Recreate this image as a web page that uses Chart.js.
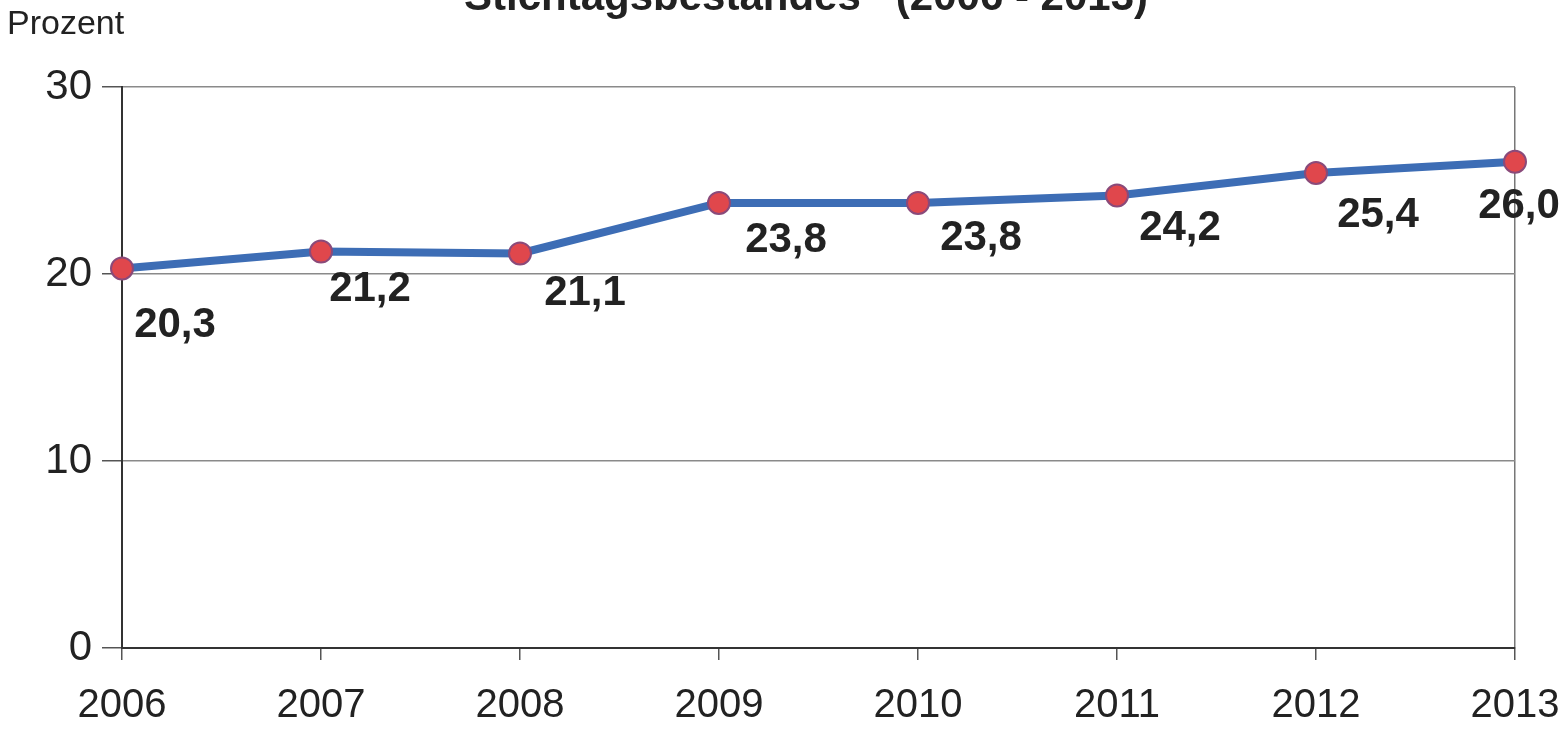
<!DOCTYPE html>
<html>
<head>
<meta charset="utf-8">
<script src="https://cdn.jsdelivr.net/npm/chart.js@4/dist/chart.umd.min.js"></script>
<style>
  html, body { margin: 0; padding: 0; background: #fff; }
  #wrap { position: relative; width: 1567px; height: 730px; }
  canvas { display: block; }
</style>
</head>
<body>
<div id="wrap"><canvas id="c" width="1567" height="730"></canvas></div>
<script>
// Jahre und Anteile (Prozent)
const years = ['2006', '2007', '2008', '2009', '2010', '2011', '2012', '2013'];
const shares = [20.3, 21.2, 21.1, 23.8, 23.8, 24.2, 25.4, 26.0];
const yTicks = [0, 10, 20, 30];

const titleText = 'Stichtagsbestandes   (2006 - 2013)';
const unitText = 'Prozent';

// Lage der Wertbeschriftungen relativ zum Punkt (dx, dy)
const labelShift = [[53, 57], [49, 38], [65, 40], [67, 37], [63, 35], [63, 33], [62, 42], [4, 45]];

const fmt = v => v.toFixed(1).replace('.', ',');

const annotate = {
  id: 'annotate',
  afterDatasetsDraw(chart) {
    const ctx = chart.ctx;
    const meta = chart.getDatasetMeta(0);
    ctx.save();
    ctx.fillStyle = '#222';
    ctx.font = 'bold 42px "Liberation Sans", Arial, sans-serif';
    ctx.textAlign = 'center';
    ctx.textBaseline = 'middle';
    meta.data.forEach((pt, i) => {
      const [dx, dy] = labelShift[i];
      ctx.fillText(fmt(shares[i]), pt.x + dx, pt.y + dy);
    });
    ctx.restore();
  },
  afterDraw(chart) {
    const ctx = chart.ctx;
    ctx.save();
    ctx.fillStyle = '#222';
    ctx.textBaseline = 'alphabetic';
    ctx.textAlign = 'left';
    ctx.font = '34px "Liberation Sans", Arial, sans-serif';
    ctx.fillText(unitText, 7, 34);
    ctx.font = 'bold 42px "Liberation Sans", Arial, sans-serif';
    ctx.textAlign = 'center';
    ctx.fillText(titleText, 806, 10);
    ctx.restore();
  }
};

new Chart(document.getElementById('c'), {
  type: 'line',
  data: {
    labels: years,
    datasets: [{
      data: shares,
      borderColor: '#3d6db5',
      borderWidth: 8,
      pointBackgroundColor: '#e0474c',
      pointBorderColor: '#8a4a7a',
      pointBorderWidth: 2,
      pointRadius: 11,
      tension: 0,
      clip: false
    }]
  },
  options: {
    responsive: false,
    animation: false,
    layout: { padding: { top: 87, right: 52, left: 0, bottom: 0 } },
    plugins: { legend: { display: false }, title: { display: false }, tooltip: { enabled: false } },
    scales: {
      x: {
        offset: false,
        grid: {
          drawOnChartArea: true,
          color: c => (c.index === years.length - 1 ? '#777' : 'transparent'),
          tickColor: '#555',
          tickLength: 12,
          lineWidth: 1.5
        },
        border: { color: '#333', width: 2 },
        ticks: {
          color: '#222',
          padding: 22,
          maxRotation: 0,
          autoSkip: false,
          font: { family: '"Liberation Sans", Arial, sans-serif', size: 40 }
        },
        afterFit: s => { s.height = 82; s.paddingLeft = 0; s.paddingRight = 0; }
      },
      y: {
        min: 0,
        max: 30,
        afterBuildTicks: s => { s.ticks = yTicks.map(v => ({ value: v })); },
        grid: { color: '#8a8a8a', lineWidth: 1.5, tickColor: '#555', tickLength: 20 },
        border: { color: '#333', width: 2 },
        ticks: {
          color: '#222',
          padding: 10,
          font: { family: '"Liberation Sans", Arial, sans-serif', size: 42 }
        },
        afterFit: s => { s.width = 122; s.paddingTop = 0; s.paddingBottom = 0; }
      }
    }
  },
  plugins: [annotate]
});
</script>
</body>
</html>
